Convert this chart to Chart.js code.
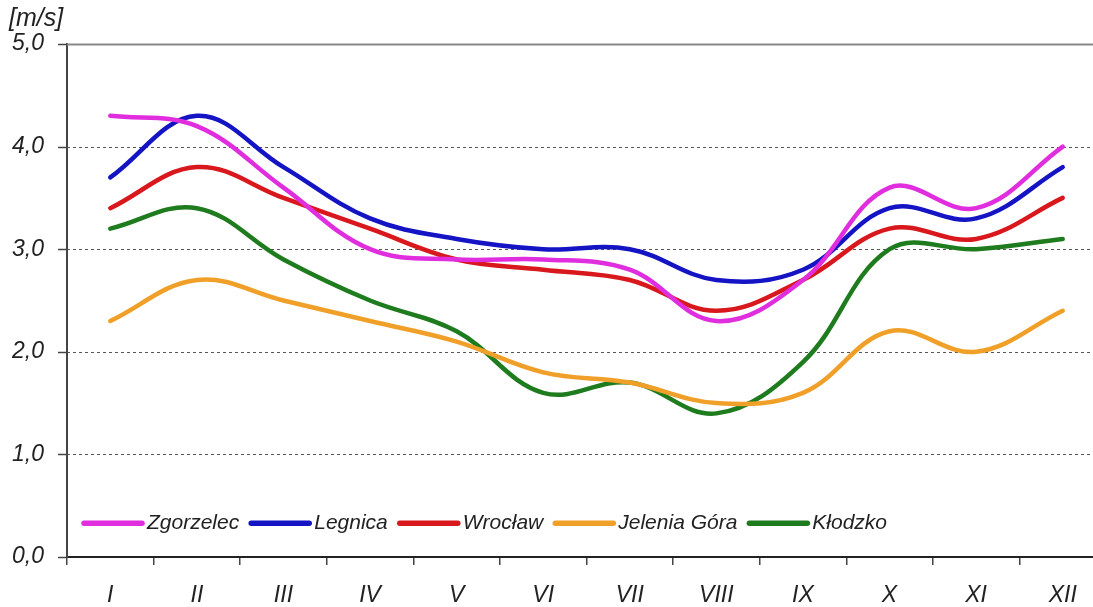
<!DOCTYPE html>
<html>
<head>
  <title>Wind speed</title>
  <script src="https://cdn.jsdelivr.net/npm/chart.js"></script>
  <style>
    html, body { margin: 0; padding: 0; overflow: hidden; background: #fff; }
  </style>
</head>
<body>
  <canvas id="windChart" width="1106" height="607"></canvas>

  <script>
    const unit = '[m/s]';
    const months = ['I', 'II', 'III', 'IV', 'V', 'VI', 'VII', 'VIII', 'IX', 'X', 'XI', 'XII'];
    const zgorzelec = [4.3, 4.2, 3.6, 3.0, 2.9, 2.9, 2.8, 2.3, 2.7, 3.6, 3.4, 4.0];
    const legnica = [3.7, 4.3, 3.8, 3.3, 3.1, 3.0, 3.0, 2.7, 2.8, 3.4, 3.3, 3.8];
    const wroclaw = [3.4, 3.8, 3.5, 3.2, 2.9, 2.8, 2.7, 2.4, 2.7, 3.2, 3.1, 3.5];
    const jeleniaGora = [2.3, 2.7, 2.5, 2.3, 2.1, 1.8, 1.7, 1.5, 1.6, 2.2, 2.0, 2.4];
    const klodzko = [3.2, 3.4, 2.9, 2.5, 2.2, 1.6, 1.7, 1.4, 1.9, 3.0, 3.0, 3.1];

    const fontFamily = '"Liberation Sans", Arial, sans-serif';

    // dashed grid lines, solid top line and short tick marks on the y axis
    const gridPlugin = {
      id: 'gridLines',
      beforeDatasetsDraw(chart) {
        const { ctx, chartArea: a, scales: { y } } = chart;
        ctx.save();
        y.ticks.forEach(t => {
          const py = Math.round(y.getPixelForValue(t.value)) + 0.5;
          ctx.setLineDash([]);
          ctx.strokeStyle = '#444';
          ctx.lineWidth = 1.5;
          ctx.beginPath();
          ctx.moveTo(a.left - 9, py);
          ctx.lineTo(a.left, py);
          ctx.stroke();
          if (t.value === 0) return;
          if (t.value === 5) {
            ctx.strokeStyle = '#888';
            ctx.lineWidth = 2;
          } else {
            ctx.strokeStyle = '#555';
            ctx.lineWidth = 1;
            ctx.setLineDash([3, 3]);
          }
          ctx.beginPath();
          ctx.moveTo(a.left, py);
          ctx.lineTo(a.right, py);
          ctx.stroke();
        });
        ctx.restore();
      },
      afterDraw(chart) {
        const ctx = chart.ctx;
        ctx.save();
        ctx.font = 'italic 25px ' + fontFamily;
        ctx.fillStyle = '#222';
        ctx.textBaseline = 'middle';
        ctx.fillText(unit, 9, 19);
        ctx.restore();
      }
    };

    // legend laid inside the plot, bottom left
    const legendPlugin = {
      id: 'innerLegend',
      afterDatasetsDraw(chart) {
        const { ctx, chartArea: a, scales: { y } } = chart;
        ctx.save();
        ctx.font = 'italic 21px ' + fontFamily;
        ctx.textBaseline = 'middle';
        let x = a.left + 17;
        const py = y.getPixelForValue(0.33);
        chart.data.datasets.forEach(ds => {
          ctx.strokeStyle = ds.borderColor;
          ctx.lineWidth = 5.5;
          ctx.lineCap = 'round';
          ctx.beginPath();
          ctx.moveTo(x, py);
          ctx.lineTo(x + 58, py);
          ctx.stroke();
          x += 63;
          ctx.fillStyle = '#222';
          ctx.fillText(ds.label, x, py);
          x += ctx.measureText(ds.label).width + 12;
        });
        ctx.restore();
      }
    };

    function series(label, data, color) {
      return {
        label: label,
        data: data,
        borderColor: color,
        backgroundColor: color,
        borderWidth: 4.5,
        pointRadius: 0,
        tension: 0.38,
        fill: false,
        borderCapStyle: 'round',
        borderJoinStyle: 'round'
      };
    }

    const ctx = document.getElementById('windChart').getContext('2d');
    new Chart(ctx, {
      type: 'line',
      data: {
        labels: months,
        datasets: [
          series('Zgorzelec', zgorzelec, '#E02DDE'),
          series('Legnica', legnica, '#1414C4'),
          series('Wrocław', wroclaw, '#D8181C'),
          series('Jelenia Góra', jeleniaGora, '#F0A028'),
          series('Kłodzko', klodzko, '#1E7B1E')
        ]
      },
      options: {
        responsive: false,
        animation: false,
        devicePixelRatio: 1,
        layout: { padding: { top: 44, left: 0, right: 0, bottom: 0 } },
        plugins: {
          legend: { display: false },
          tooltip: { enabled: false }
        },
        scales: {
          x: {
            offset: true,
            grid: {
              display: true,
              offset: true,
              drawOnChartArea: false,
              drawTicks: true,
              tickLength: 8,
              color: '#444',
              lineWidth: 1.5
            },
            border: { display: true, color: '#222', width: 2 },
            ticks: {
              color: '#222',
              padding: 17,
              font: { family: fontFamily, size: 23, style: 'italic' }
            },
            afterFit: s => { s.height = 50; }
          },
          y: {
            min: 0,
            max: 5,
            grid: {
              display: true,
              drawOnChartArea: false,
              drawTicks: true,
              tickLength: 9,
              color: 'rgba(0,0,0,0)'
            },
            border: { display: true, color: '#444', width: 2 },
            ticks: {
              stepSize: 1,
              color: '#222',
              padding: 14,
              font: { family: fontFamily, size: 23, style: 'italic' },
              callback: v => v.toFixed(1).replace('.', ',')
            },
            afterFit: s => { s.width = 67; }
          }
        }
      },
      plugins: [gridPlugin, legendPlugin]
    });
  </script>
</body>
</html>
